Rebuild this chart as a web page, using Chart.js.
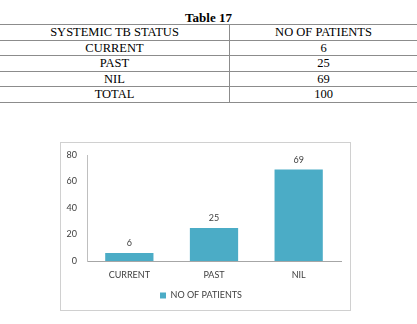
<!DOCTYPE html>
<html>
<head>
<meta charset="utf-8">
<script src="https://cdn.jsdelivr.net/npm/chart.js@4/dist/chart.umd.min.js"></script>
<style>
  html, body { margin: 0; padding: 0; background: #fff; }
  body { width: 417px; height: 324px; position: relative; overflow: hidden; font-family: "Liberation Serif", "Times New Roman", serif; color: #000; }
  #title { position: absolute; left: 0; top: 10px; width: 417px; text-align: center; font-weight: bold; font-size: 13px; line-height: 15px; }
  #tbl { position: absolute; left: 0; top: 24px; width: 417px; border-collapse: collapse; font-size: 12.5px; }
  #tbl td { border-top: 1.3px solid #8c8c8c; border-bottom: 1.3px solid #8c8c8c; height: 14.5px; padding: 0; line-height: 14.5px; text-align: center; }
  #tbl td:first-child { width: 229px; border-right: 1.3px solid #8c8c8c; }
  #box { position: absolute; left: 60px; top: 142px; width: 289px; height: 167px; border: 1px solid #d0d0d0; }
  #box canvas { position: absolute; left: 0; top: 0; }
</style>
</head>
<body>
<div id="title">Table 17</div>
<table id="tbl"><tbody id="tb"></tbody></table>
<div id="box"><canvas id="c" width="289" height="167"></canvas></div>
<script>
const headers = ["SYSTEMIC TB STATUS", "NO OF PATIENTS"];
const categories = ["CURRENT", "PAST", "NIL"];
const patients = [6, 25, 69];
const totalLabel = "TOTAL";
const totalValue = 100;
const seriesName = "NO OF PATIENTS";
const yTicks = [0, 20, 40, 60, 80];

// table
const tb = document.getElementById('tb');
function addRow(a, b) {
  const tr = document.createElement('tr');
  [a, b].forEach(v => { const td = document.createElement('td'); td.textContent = v; tr.appendChild(td); });
  tb.appendChild(tr);
}
addRow(headers[0], headers[1]);
categories.forEach((c, i) => addRow(c, patients[i]));
addRow(totalLabel, totalValue);

const FONT = 'Lato, "Open Sans", sans-serif';
const valueLabels = {
  id: 'valueLabels',
  afterDatasetsDraw(chart) {
    const ctx = chart.ctx;
    const meta = chart.getDatasetMeta(0);
    ctx.save();
    ctx.font = '9px ' + FONT;
    ctx.fillStyle = '#404040';
    ctx.textAlign = 'center';
    ctx.textBaseline = 'bottom';
    meta.data.forEach((bar, i) => {
      ctx.fillText(String(chart.data.datasets[0].data[i]), bar.x, bar.y - 5);
    });
    ctx.restore();
  }
};

new Chart(document.getElementById('c'), {
  type: 'bar',
  data: {
    labels: categories,
    datasets: [{
      label: seriesName,
      data: patients,
      backgroundColor: '#4BACC6',
      borderWidth: 0,
      categoryPercentage: 1,
      barPercentage: 0.57
    }]
  },
  options: {
    responsive: false,
    animation: false,
    devicePixelRatio: 1,
    layout: { padding: { left: 0, right: 9, top: 12, bottom: 0 } },
    plugins: {
      legend: {
        position: 'bottom',
        labels: {
          boxWidth: 6, boxHeight: 6, padding: 5,
          color: '#404040',
          font: { family: FONT, size: 9 }
        }
      },
      tooltip: { enabled: false }
    },
    scales: {
      x: {
        grid: { display: false, drawTicks: false },
        border: { display: true, color: '#a6a6a6', width: 1 },
        ticks: { color: '#404040', padding: 9, font: { family: FONT, size: 9 } },
        afterFit(s) { s.height = 25; s.paddingLeft = 0; s.paddingRight = 0; }
      },
      y: {
        min: 0, max: 80,
        afterBuildTicks(s) { s.ticks = yTicks.map(v => ({ value: v })); },
        grid: { display: false, drawTicks: false },
        border: { display: true, color: '#bfbfbf', width: 1 },
        ticks: { color: '#404040', padding: 10, font: { family: FONT, size: 9 } },
        afterFit(s) { s.width = 26; s.paddingTop = 0; s.paddingBottom = 0; }
      }
    }
  },
  plugins: [valueLabels]
});
</script>
</body>
</html>
